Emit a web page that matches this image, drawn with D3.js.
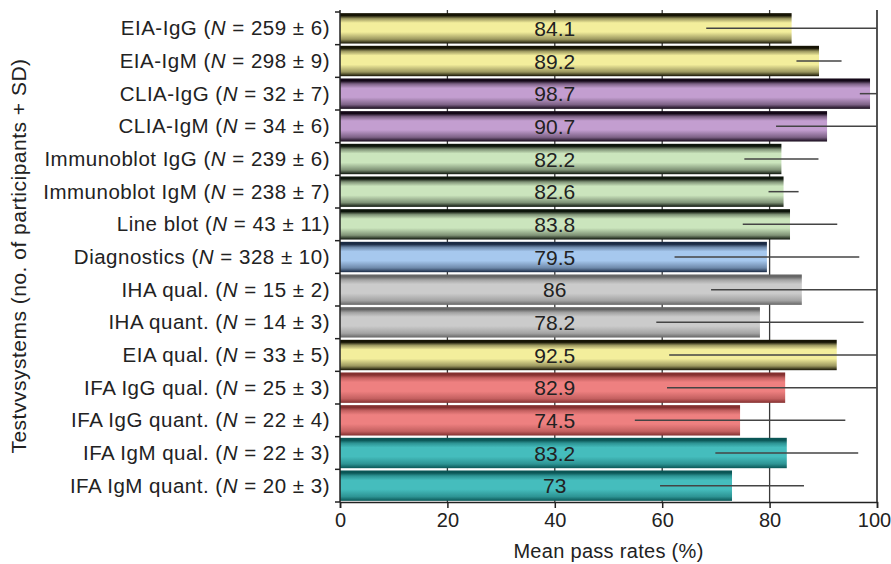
<!DOCTYPE html>
<html>
<head>
<meta charset="utf-8">
<script src="https://cdn.jsdelivr.net/npm/d3@7"></script>
<style>
  body { margin: 0; background: #fff; }
  svg { font-family: "Liberation Sans", Arial, sans-serif; }
</style>
</head>
<body>
<div id="chart"></div>
<script>
// Data
const names = ["EIA-IgG", "EIA-IgM", "CLIA-IgG", "CLIA-IgM", "Immunoblot IgG", "Immunoblot IgM",
    "Line blot", "Diagnostics", "IHA qual.", "IHA quant.", "EIA qual.", "IFA IgG qual.",
    "IFA IgG quant.", "IFA IgM qual.", "IFA IgM quant."];
const nText = ["259 ± 6", "298 ± 9", "32 ± 7", "34 ± 6", "239 ± 6", "238 ± 7", "43 ± 11",
    "328 ± 10", "15 ± 2", "14 ± 3", "33 ± 5", "25 ± 3", "22 ± 4", "22 ± 3", "20 ± 3"];
const passRates = [84.1, 89.2, 98.7, 90.7, 82.2, 82.6, 83.8, 79.5, 86, 78.2, 92.5, 82.9, 74.5, 83.2, 73];
const sdValues = [15.9, 4.2, 1.9, 9.5, 6.9, 2.8, 8.8, 17.2, 16.9, 19.3, 31.2, 22, 19.6, 13.3, 13.4];
const groups = ["eia", "eia", "clia", "clia", "blot", "blot", "blot", "diag", "iha", "iha", "eia",
    "ifag", "ifag", "ifam", "ifam"];
const xTicks = [0, 20, 40, 60, 80, 100];

const palette = {
    eia:  { light: "#f3ee9c", dark: "#161404" },
    clia: { light: "#c39ed0", dark: "#140818" },
    blot: { light: "#cbe5bd", dark: "#0e160c" },
    diag: { light: "#a6c8ee", dark: "#1a2a44" },
    iha:  { light: "#cbcbcb", dark: "#666" },
    ifag: { light: "#ee8080", dark: "#843030" },
    ifam: { light: "#45bdbd", dark: "#0a5656" }
};

const width = 891, height = 564;
const margin = { top: 12, right: 14, bottom: 62, left: 340 };

const data = names.map((n, i) => ({ name: n, n: nText[i], value: passRates[i], sd: sdValues[i], group: groups[i] }));

const svg = d3.select("#chart").append("svg")
    .attr("width", width)
    .attr("height", height);

// gradients for the tube-like bars
const defs = svg.append("defs");
Object.entries(palette).forEach(([key, c]) => {
    const g = defs.append("linearGradient")
        .attr("id", "grad-" + key)
        .attr("x1", 0).attr("y1", 0).attr("x2", 0).attr("y2", 1);
    const mid = d3.interpolateRgb(c.dark, c.light);
    [[0, c.dark], [0.08, c.dark], [0.18, mid(0.6)], [0.32, c.light], [0.62, c.light], [0.86, mid(0.6)], [1, c.dark]]
        .forEach(([o, col]) => g.append("stop").attr("offset", o).attr("stop-color", col));
});

const x = d3.scaleLinear()
    .domain([0, 100])
    .range([margin.left, width - margin.right]);

const y = d3.scaleBand()
    .domain(names)
    .range([margin.top, height - margin.bottom])
    .paddingInner(0.07)
    .paddingOuter(0.035);

const plotTop = margin.top - 2, plotBottom = height - margin.bottom;

// gridlines behind bars
svg.append("g")
    .selectAll("line")
    .data(xTicks.slice(1))
    .join("line")
    .attr("x1", d => x(d)).attr("x2", d => x(d))
    .attr("y1", plotTop).attr("y2", plotBottom)
    .attr("stroke", "#3a3a3a")
    .attr("stroke-width", 1.3);

// bars
svg.append("g")
    .selectAll("rect")
    .data(data)
    .join("rect")
    .attr("x", x(0))
    .attr("y", d => y(d.name))
    .attr("width", d => x(d.value) - x(0))
    .attr("height", y.bandwidth())
    .attr("fill", d => `url(#grad-${d.group})`);

// error bars (clipped at the plot frame)
svg.append("clipPath").attr("id", "plot-clip")
    .append("rect")
    .attr("x", x(0)).attr("y", plotTop)
    .attr("width", x(100) - x(0)).attr("height", plotBottom - plotTop);

svg.append("g")
    .attr("clip-path", "url(#plot-clip)")
    .selectAll("line")
    .data(data)
    .join("line")
    .attr("x1", d => x(d.value - d.sd))
    .attr("x2", d => x(d.value + d.sd))
    .attr("y1", d => y(d.name) + y.bandwidth() / 2)
    .attr("y2", d => y(d.name) + y.bandwidth() / 2)
    .attr("stroke", "#444")
    .attr("stroke-width", 1.5);

// value labels
svg.append("g")
    .selectAll("text")
    .data(data)
    .join("text")
    .attr("x", x(40))
    .attr("y", d => y(d.name) + y.bandwidth() / 2 + 7.5)
    .attr("text-anchor", "middle")
    .attr("font-size", "21px")
    .attr("fill", "#222")
    .text(d => d.value);

// x axis
const xAxis = svg.append("g")
    .attr("transform", `translate(0, ${plotBottom})`)
    .call(d3.axisBottom(x).tickValues(xTicks).tickSize(6).tickPadding(5));
xAxis.select(".domain").attr("stroke", "#222").attr("stroke-width", 1.5);
xAxis.selectAll(".tick line").attr("stroke", "#222").attr("stroke-width", 1.5);
xAxis.selectAll("text").attr("font-size", "20px").attr("fill", "#222")
    .attr("font-family", "Liberation Sans, Arial, sans-serif")
    .attr("dx", d => d === 100 ? "-3px" : null);

// y axis with boundary ticks
const yAxis = svg.append("g").attr("transform", `translate(${x(0)}, 0)`);
yAxis.append("line")
    .attr("y1", plotTop).attr("y2", plotBottom)
    .attr("stroke", "#222").attr("stroke-width", 1.5);
yAxis.selectAll(".bt")
    .data(names.concat(["end"]))
    .join("line")
    .attr("class", "bt")
    .attr("x1", -5).attr("x2", 0)
    .attr("y1", (d, i) => i < names.length ? y(d) - y.step() * y.paddingInner() / 2 : plotBottom)
    .attr("y2", (d, i) => i < names.length ? y(d) - y.step() * y.paddingInner() / 2 : plotBottom)
    .attr("stroke", "#222").attr("stroke-width", 1.5);

// right frame
svg.append("line")
    .attr("x1", x(100)).attr("x2", x(100))
    .attr("y1", plotTop).attr("y2", plotBottom)
    .attr("stroke", "#444").attr("stroke-width", 1.5);

// category labels with italic N
const labels = svg.append("g")
    .selectAll("text")
    .data(data)
    .join("text")
    .attr("x", x(0) - 10)
    .attr("y", d => y(d.name) + y.bandwidth() / 2 + 7)
    .attr("text-anchor", "end")
    .attr("font-size", "20.5px")
    .attr("letter-spacing", "0.5px")
    .attr("fill", "#222");
labels.append("tspan").text(d => d.name + " (");
labels.append("tspan").attr("font-style", "italic").text("N");
labels.append("tspan").text(d => " = " + d.n + ")");

// axis titles
svg.append("text")
    .attr("x", (x(0) + x(100)) / 2)
    .attr("y", 558)
    .attr("text-anchor", "middle")
    .attr("font-size", "20px")
    .attr("letter-spacing", "0.3px")
    .attr("fill", "#222")
    .text("Mean pass rates (%)");

svg.append("text")
    .attr("transform", `translate(26, ${(plotTop + plotBottom) / 2}) rotate(-90)`)
    .attr("text-anchor", "middle")
    .attr("font-size", "21px")
    .attr("letter-spacing", "0.5px")
    .attr("fill", "#222")
    .text("Testvvsystems (no. of participants + SD)");
</script>
</body>
</html>
